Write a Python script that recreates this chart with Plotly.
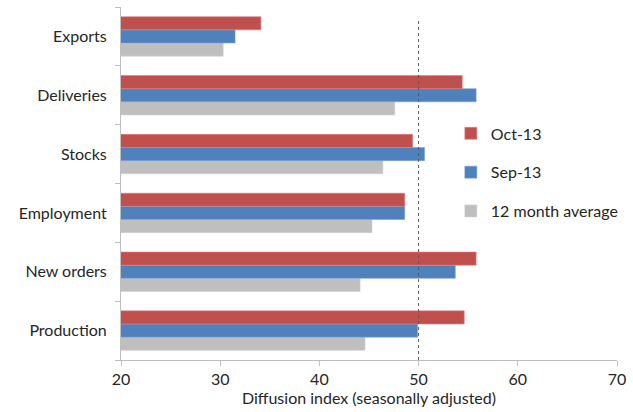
import plotly.graph_objects as go

categories = ["Production", "New orders", "Employment", "Stocks", "Deliveries", "Exports"]
oct13 = [54.6, 55.8, 48.6, 49.4, 54.4, 34.1]
sep13 = [49.9, 53.7, 48.6, 50.6, 55.8, 31.5]
avg12 = [44.6, 44.1, 45.3, 46.4, 47.6, 30.3]
threshold = 50
x_ticks = [20, 30, 40, 50, 60, 70]

font_family = "Lato, 'Open Sans', sans-serif"
txt = "#262626"

fig = go.Figure()
series = [
    ("12 month average", avg12, "#BFBFBF", "#D0D0D0", 3),
    ("Sep-13", sep13, "#4F81BD", "#7FA3D3", 2),
    ("Oct-13", oct13, "#C0504D", "#D98280", 1),
]
for name, vals, col, edge, rank in series:
    fig.add_trace(go.Bar(
        y=categories, x=vals, name=name, orientation="h",
        marker=dict(color=col, line=dict(color=edge, width=0.6)),
        legendgroup=name, legendrank=rank,
    ))

fig.add_shape(type="line", xref="x", yref="paper", x0=threshold, x1=threshold,
              y0=0, y1=0.963, line=dict(color="#595959", width=1, dash="dot"))

fig.update_layout(
    width=633, height=412,
    margin=dict(l=121, r=16, t=7, b=52),
    paper_bgcolor="white", plot_bgcolor="white",
    barmode="group", bargap=0.33, bargroupgap=0,
    font=dict(family=font_family, size=16, color=txt),
    showlegend=True,
    legend=dict(x=0.665, y=0.69, xanchor="left", yanchor="top",
                traceorder="grouped", tracegroupgap=15,
                font=dict(size=16, color=txt), bgcolor="rgba(0,0,0,0)"),
    xaxis=dict(range=[20, 70], tickvals=x_ticks, showgrid=False, zeroline=False,
               automargin=False,
               showline=True, linecolor="#BFBFBF", linewidth=1,
               ticks="outside", ticklen=5, tickcolor="#BFBFBF",
               title=dict(text="Diffusion index (seasonally adjusted)", standoff=4,
                          font=dict(size=16, color=txt)),
               tickfont=dict(size=16, color=txt)),
    yaxis=dict(showgrid=False, zeroline=False, showline=True, linecolor="#BFBFBF",
               automargin=False,
               linewidth=1, ticks="outside", tickson="boundaries", ticklen=5,
               ticklabelstandoff=10,
               tickcolor="#BFBFBF", tickfont=dict(size=16, color=txt),
               categoryorder="array", categoryarray=categories),
)

fig.write_html("out.html", post_script="document.body.style.margin='0';",
               config={"displayModeBar": False})
